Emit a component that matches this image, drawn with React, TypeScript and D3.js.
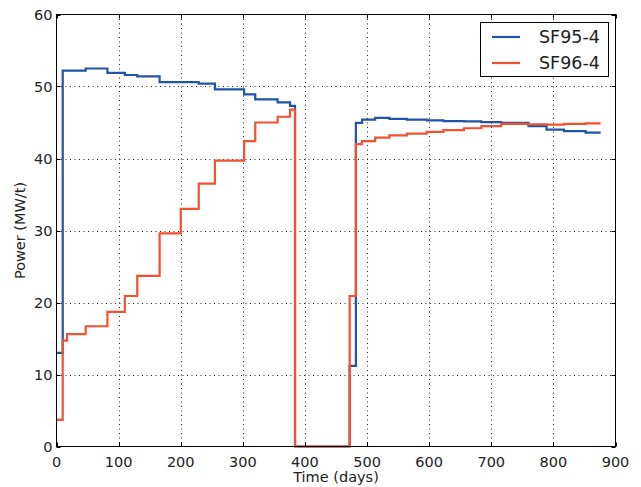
import { useEffect, useRef } from "react";
import * as d3 from "d3";

// SF95-4 step history: day where each level starts, and the power level
const sf95Days = [0, 10, 47, 82, 110, 130, 166, 229, 255, 302, 320, 356, 376, 384, 472, 482, 492, 513, 536, 564, 596, 623, 656, 684, 716, 760, 789, 817, 852, 876];
const sf95Power = [13.0, 52.2, 52.5, 51.9, 51.6, 51.4, 50.6, 50.4, 49.6, 48.9, 48.2, 47.8, 47.3, 0, 11.2, 44.95, 45.4, 45.65, 45.5, 45.4, 45.3, 45.2, 45.15, 45.05, 44.95, 44.5, 44.0, 43.8, 43.6, 43.6];

// SF96-4 step history
const sf96Days = [0, 10, 17, 47, 82, 110, 130, 166, 200, 229, 255, 302, 320, 356, 376, 384, 472, 482, 492, 513, 536, 564, 596, 623, 656, 684, 716, 760, 789, 817, 852, 876];
const sf96Power = [3.7, 14.7, 15.6, 16.7, 18.7, 20.9, 23.7, 29.6, 33.0, 36.5, 39.7, 42.4, 45.0, 45.8, 46.8, 0, 20.9, 42.0, 42.4, 42.9, 43.2, 43.45, 43.7, 43.95, 44.2, 44.5, 44.8, 44.75, 44.7, 44.8, 44.87, 44.87];

const seriesNames = ["SF95-4", "SF96-4"];
const seriesColors = ["#2353a6", "#f15232"];
const xTicks = [0, 100, 200, 300, 400, 500, 600, 700, 800, 900];
const yTicks = [0, 10, 20, 30, 40, 50, 60];

export default function App() {
  const svgRef = useRef<SVGSVGElement>(null);

  useEffect(() => {
    document.body.style.margin = "0";
    const w = 641;
    const h = 487;
    const left = 56.5, right = 615.5, top = 14.5, bottom = 446.5;
    const font = "DejaVu Sans, sans-serif";

    const svg = d3.select(svgRef.current).attr("width", w).attr("height", h);
    svg.selectAll("*").remove();
    svg.append("rect").attr("width", w).attr("height", h).attr("fill", "#fff");

    const x = d3.scaleLinear().domain([0, 900]).range([left, right]);
    const y = d3.scaleLinear().domain([0, 60]).range([bottom, top]);

    // dotted grid
    const grid = svg.append("g").attr("stroke", "#000").attr("stroke-width", 1).attr("stroke-dasharray", "1,3.5").attr("opacity", 0.85);
    grid.selectAll("line.gx").data(xTicks.slice(1, -1)).join("line")
      .attr("x1", (d) => Math.round(x(d)) + 0.5).attr("x2", (d) => Math.round(x(d)) + 0.5)
      .attr("y1", top).attr("y2", bottom);
    grid.selectAll("line.gy").data(yTicks.slice(1, -1)).join("line")
      .attr("y1", (d) => Math.round(y(d)) + 0.5).attr("y2", (d) => Math.round(y(d)) + 0.5)
      .attr("x1", left).attr("x2", right);

    // step lines
    const series = [
      { days: sf95Days, power: sf95Power },
      { days: sf96Days, power: sf96Power },
    ];
    series.forEach((s, k) => {
      const line = d3.line<number>()
        .x((d) => x(d))
        .y((_, i) => y(s.power[i]))
        .curve(d3.curveStepAfter);
      svg.append("path")
        .attr("d", line(s.days))
        .attr("fill", "none")
        .attr("stroke", seriesColors[k])
        .attr("stroke-width", 2.2)
        .attr("stroke-linejoin", "miter");
    });

    // frame
    svg.append("rect")
      .attr("x", left).attr("y", top)
      .attr("width", right - left).attr("height", bottom - top)
      .attr("fill", "none").attr("stroke", "#000").attr("stroke-width", 1);

    // inward ticks on all sides
    const tk = svg.append("g").attr("stroke", "#000").attr("stroke-width", 1);
    xTicks.forEach((t) => {
      const xx = Math.round(x(t)) + 0.5;
      tk.append("line").attr("x1", xx).attr("x2", xx).attr("y1", bottom).attr("y2", bottom - 4);
      tk.append("line").attr("x1", xx).attr("x2", xx).attr("y1", top).attr("y2", top + 4);
    });
    yTicks.forEach((t) => {
      const yy = Math.round(y(t)) + 0.5;
      tk.append("line").attr("y1", yy).attr("y2", yy).attr("x1", left).attr("x2", left + 4);
      tk.append("line").attr("y1", yy).attr("y2", yy).attr("x1", right).attr("x2", right - 4);
    });

    // tick labels
    svg.append("g").selectAll("text").data(xTicks).join("text")
      .attr("x", (d) => x(d)).attr("y", bottom + 20)
      .attr("text-anchor", "middle")
      .attr("font-family", font).attr("font-size", 14.5).attr("fill", "#222")
      .text((d) => d);
    svg.append("g").selectAll("text").data(yTicks).join("text")
      .attr("x", left - 4).attr("y", (d) => y(d) + 5)
      .attr("text-anchor", "end")
      .attr("font-family", font).attr("font-size", 14.5).attr("fill", "#222")
      .text((d) => d);

    // axis labels
    svg.append("text")
      .attr("x", (left + right) / 2).attr("y", bottom + 35)
      .attr("text-anchor", "middle")
      .attr("font-family", font).attr("font-size", 14.5).attr("fill", "#222")
      .text("Time (days)");
    svg.append("text")
      .attr("transform", `translate(25, ${(top + bottom) / 2}) rotate(-90)`)
      .attr("text-anchor", "middle")
      .attr("font-family", font).attr("font-size", 14.5).attr("fill", "#222")
      .text("Power (MW/t)");

    // legend
    const lg = svg.append("g");
    lg.append("rect")
      .attr("x", 480.5).attr("y", 22.5).attr("width", 128).attr("height", 54)
      .attr("fill", "#fff").attr("stroke", "#000").attr("stroke-width", 1);
    seriesNames.forEach((name, i) => {
      const yy = 37 + i * 26;
      lg.append("line")
        .attr("x1", 492).attr("x2", 520).attr("y1", yy).attr("y2", yy)
        .attr("stroke", seriesColors[i]).attr("stroke-width", 2.2);
      lg.append("text")
        .attr("x", 539).attr("y", yy + 6)
        .attr("font-family", font).attr("font-size", 17.5).attr("fill", "#222")
        .text(name);
    });
  }, []);

  return <svg ref={svgRef} style={{ display: "block" }}></svg>;
}
